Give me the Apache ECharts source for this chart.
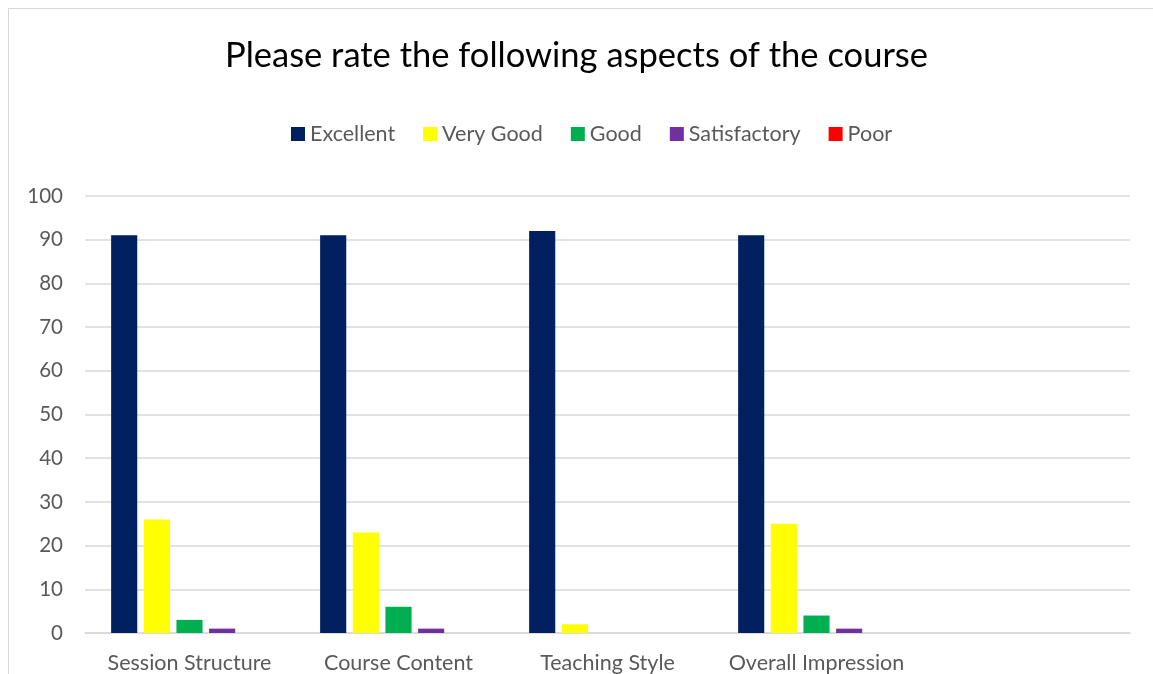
<!DOCTYPE html>
<html><head><meta charset="utf-8">
<script src="https://cdn.jsdelivr.net/npm/echarts@6/dist/echarts.min.js"></script>
<style>html,body{margin:0;padding:0;background:#fff;overflow:hidden}
#frame{position:absolute;left:8px;top:8px;width:1200px;height:700px;border:1px solid #d9d9d9;}
#c{position:absolute;left:0;top:0;width:1153px;height:674px}</style>
</head><body><div id="frame"></div><div id="c"></div>
<script>
const categories = ['Session Structure','Course Content','Teaching Style','Overall Impression',''];
const seriesNames = ['Excellent','Very Good','Good','Satisfactory','Poor'];
const excellent = [91,91,92,91,null];
const veryGood = [26,23,2,25,null];
const good = [3,6,0,4,null];
const satisfactory = [1,1,0,1,null];
const poor = [0,0,0,0,null];
const colors = ['#002060','#ffff00','#00b050','#7030a0','#ff0000'];
const values = [excellent, veryGood, good, satisfactory, poor];
const font = 'Lato, "Open Sans", sans-serif';
const chart = echarts.init(document.getElementById('c'));
chart.setOption({
  animation:false,
  title:{text:'Please rate the following aspects of the course',left:'center',top:33,textStyle:{fontFamily:font,fontSize:34.5,fontWeight:'normal',color:'#000'}},
  legend:{top:118,left:286,itemWidth:14,itemHeight:14,itemGap:28,icon:'rect',textStyle:{fontFamily:font,fontSize:21.5,color:'#595959'},data:seriesNames},
  grid:{left:85,right:23,top:196,bottom:41,containLabel:false},
  xAxis:{type:'category',data:categories,axisLine:{lineStyle:{color:'#d9d9d9',width:1.5}},axisTick:{show:false},
    axisLabel:{fontFamily:font,fontSize:21.5,color:'#595959',margin:19,interval:0}},
  yAxis:{type:'value',min:0,max:100,interval:10,axisLine:{show:false},axisTick:{show:false},
    splitLine:{lineStyle:{color:'#d9d9d9',width:1.5}},axisLabel:{fontFamily:font,fontSize:20.5,color:'#595959',margin:22}},
  series: seriesNames.map((n,i)=>({name:n,type:'bar',data:values[i],itemStyle:{color:colors[i]},barGap:'25%',barCategoryGap:'25%'}))
});
</script></body></html>
